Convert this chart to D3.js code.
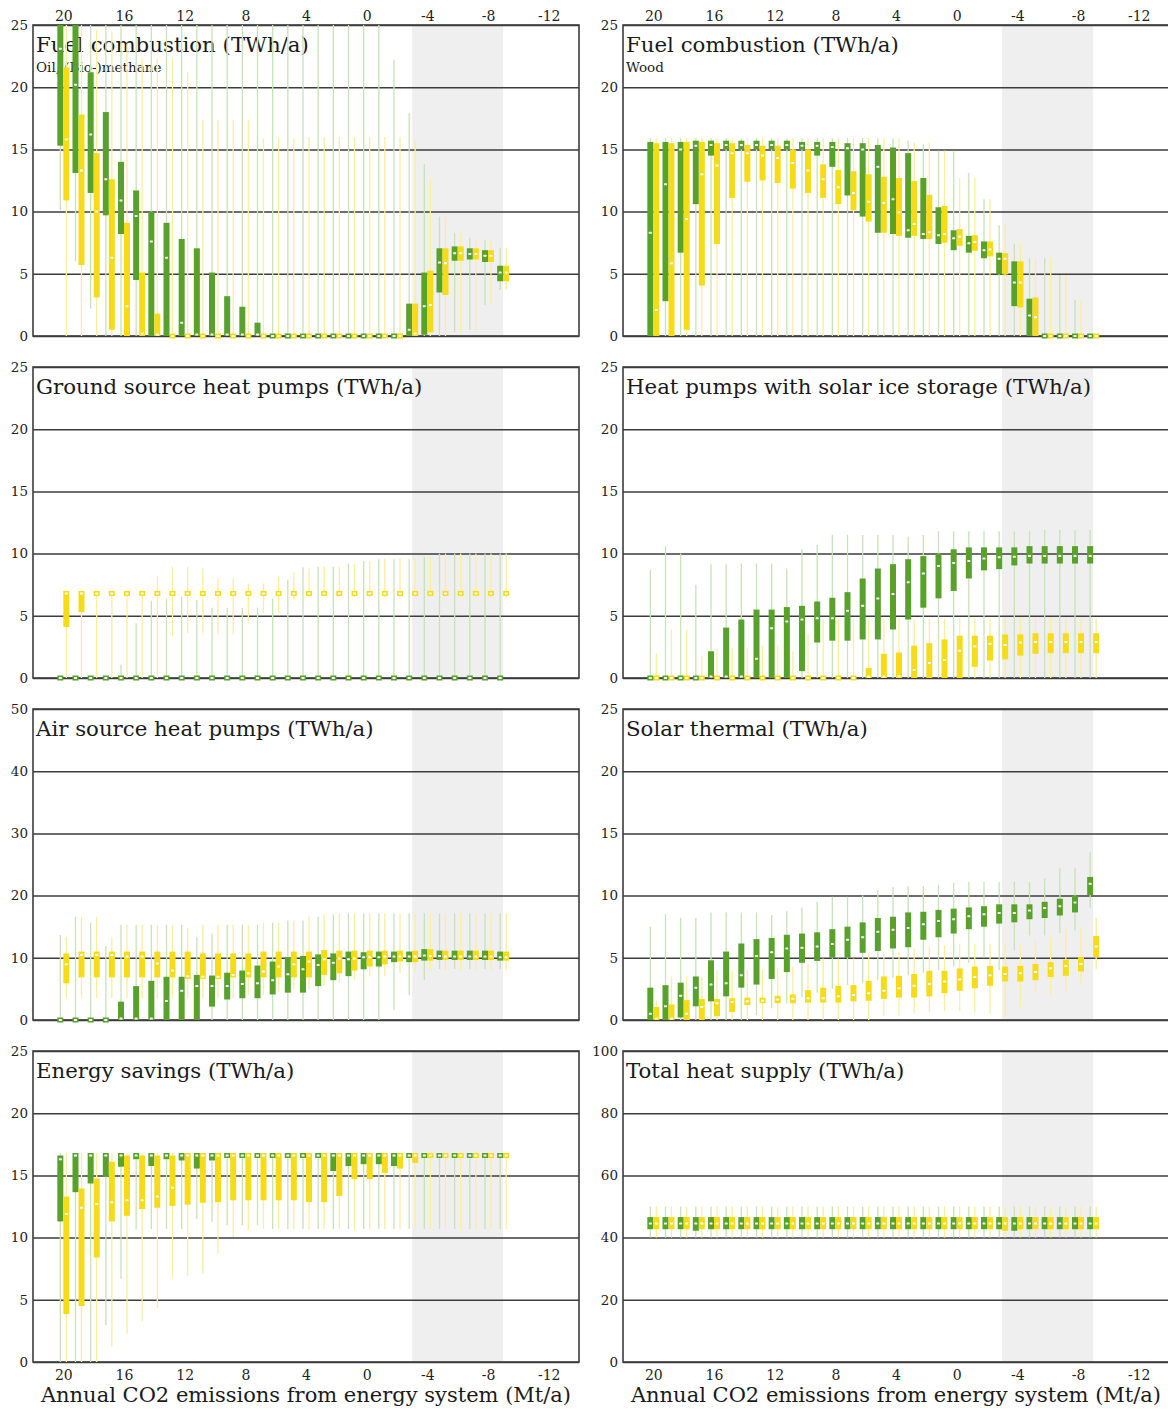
<!DOCTYPE html>
<html>
<head>
<meta charset="utf-8">
<script src="https://cdn.jsdelivr.net/npm/d3@7"></script>
<style>
  body { margin: 0; background: #fff; }
  svg { display: block; }
  text { font-family: "DejaVu Serif", serif; }
</style>
</head>
<body>
<svg id="chart" width="1168" height="1410"></svg>
<script>
// Annual CO2 emissions of the energy system (Mt/a), one box pair per level
const emissions = [20,19,18,17,16,15,14,13,12,11,10,9,8,7,6,5,4,3,2,1,0,-1,-2,-3,-4,-5,-6,-7,-8,-9];
const xTicks = [20,16,12,8,4,0,-4,-8,-12];
const ticks25 = [0,5,10,15,20,25];
const ticks50 = [0,10,20,30,40,50];
const ticks100 = [0,20,40,60,80,100];
const negativeRange = [-3, -9];

const panelTitles = [
  "Fuel combustion (TWh/a)", "Fuel combustion (TWh/a)",
  "Ground source heat pumps (TWh/a)", "Heat pumps with solar ice storage (TWh/a)",
  "Air source heat pumps (TWh/a)", "Solar thermal (TWh/a)",
  "Energy savings (TWh/a)", "Total heat supply (TWh/a)"
];
const panelSubtitles = ["Oil, (Bio-)methane", "Wood", "", "", "", "", "", ""];
const axisTitle = "Annual CO2 emissions from energy system (Mt/a)";

// Each row: [whisker low, lower quartile, median, upper quartile, whisker high]
const oilGreen = [
  [10.1,15.3,23.1,27,30],[6,13.1,20.2,27,30],[2.2,11.5,16.2,21.2,28],[0,9.7,12.6,18.0,28],
  [0,8.2,10.9,14.0,28],[0,4.5,9.65,11.7,28],[0,0,7.6,10.0,28],[0,0,6.3,9.1,28],
  [0,0,1.07,7.8,28],[0,0,0,7.05,28],[0,0,0,5.1,28],[0,0,0,3.2,28],
  [0,0,0,2.35,28],[0,0,0,1.07,28],[0,0,0,0,28],[0,0,0,0,28],
  [0,0,0,0,28],[0,0,0,0,28],[0,0,0,0,28],[0,0,0,0,28],
  [0,0,0,0,28],[0,0,0,0,28],[0,0,0,0,22.2],[0,0,0.5,2.6,17.9],
  [0,0.1,2.4,5.1,13.8],[0,3.5,5.9,7.05,9.6],[0.3,6.05,6.65,7.2,8.3],[0.5,6.15,6.6,7.05,7.9],
  [2.5,5.95,6.45,6.9,7.7],[3.7,4.4,5.1,5.65,7.1]
];
const oilYellow = [
  [0,10.9,15.8,21.6,28],[0,5.7,13.3,17.8,28],[0,3.1,10.0,14.7,24.6],[0,0.5,6.3,12.6,24.5],
  [0,0,2.4,9.1,23.5],[0,0,0.2,5.1,22.3],[0,0,0,1.8,22.3],[0,0,0,0,22.3],
  [0,0,0,0,21.2],[0,0,0,0,17.4],[0,0,0,0,17.4],[0,0,0,0,17.4],
  [0,0,0,0,17.4],[0,0,0,0,15.9],[0,0,0,0,15.9],[0,0,0,0,15.9],
  [0,0,0,0,16.0],[0,0,0,0,16.0],[0,0,0,0,16.0],[0,0,0,0,16.0],
  [0,0,0,0,16.0],[0,0,0,0,16.0],[0,0,0,0,16.0],[0,0,0.2,2.6,15.8],
  [0,0.3,2.5,5.25,12.7],[0,3.3,5.85,7.05,9.65],[0.3,6.05,6.65,7.2,8.3],[0.5,6.15,6.6,7.05,7.7],
  [2.5,5.95,6.45,6.9,7.7],[3.7,4.4,5.1,5.65,7.1]
];
const woodGreen = [
  [0,0,8.3,15.6,15.9],[0,2.8,12.2,15.6,15.9],[0,6.7,15.0,15.6,15.9],[0,10.6,15.3,15.7,15.9],
  [0,14.5,15.35,15.7,15.9],[0,15.0,15.35,15.7,15.9],[0,15.0,15.35,15.7,15.9],[0,15.0,15.35,15.7,15.9],
  [0,15.0,15.35,15.7,15.9],[0,15.0,15.35,15.7,15.9],[0,15.0,15.3,15.6,15.9],[0,14.5,15.3,15.6,15.9],
  [0,13.6,15.2,15.6,15.9],[0,11.3,15.1,15.5,15.9],[0,9.6,15.0,15.5,15.9],[0,8.3,13.6,15.35,15.9],
  [0,8.2,11.0,15.15,15.9],[0,7.9,8.5,14.7,15.7],[0,7.8,8.2,12.7,15.4],[0,7.4,8.1,10.35,14.9],
  [0,6.9,7.85,8.5,14.9],[0,6.7,7.45,8.05,13.1],[0,6.25,6.9,7.6,11.0],[0,4.95,6.2,6.7,8.9],
  [0,2.4,4.3,6.0,7.4],[0,0,1.65,3.0,6.25],[0,0,0,0,6.25],[0,0,0,0,4.9],
  [0,0,0,0,2.9],[0,0,0,0,0]
];
const woodYellow = [
  [0,0,2.1,15.5,15.9],[0,0,5.85,15.5,15.9],[0,0.5,9.4,15.6,15.9],[0,4.05,13.0,15.6,15.9],
  [0,7.4,13.7,15.5,15.9],[0,11.1,14.7,15.5,15.9],[0,12.4,14.7,15.35,15.9],[0,12.5,14.5,15.3,15.9],
  [0,12.3,14.3,15.3,15.9],[0,11.85,13.9,15.0,15.9],[0,11.5,13.3,15.0,15.9],[0,11.1,12.6,13.8,15.9],
  [0,10.6,11.95,13.35,15.9],[0,10.1,11.5,13.25,15.9],[0,9.2,10.8,13.0,15.9],[0,8.3,10.7,12.8,15.9],
  [0,8.05,9.95,12.7,15.9],[0,8.05,9.0,12.45,15.55],[0,7.8,8.35,11.35,15.55],[0,7.5,8.2,10.45,14.9],
  [0,7.25,8.0,8.6,12.7],[0,6.85,7.55,8.1,12.7],[0,6.4,6.95,7.6,11.0],[0,4.95,6.2,6.65,8.9],
  [0,2.3,4.3,6.0,7.4],[0,0,1.5,3.1,6.25],[0,0,0,0,6.25],[0,0,0,0,4.9],
  [0,0,0,0,2.9],[0,0,0,0,0]
];
const groundGreen = [
  [0,0,0,0,0],[0,0,0,0,0],[0,0,0,0,0],[0,0,0,0,0],
  [0,0,0,0,1.07],[0,0,0,0,4.4],[0,0,0,0,6.2],[0,0,0,0,6.4],
  [0,0,0,0,6.55],[0,0,0,0,6.3],[0,0,0,0,5.65],[0,0,0,0,5.65],
  [0,0,0,0,5.65],[0,0,0,0,5.65],[0,0,0,0,6.4],[0,0,0,0,7.9],
  [0,0,0,0,8.9],[0,0,0,0,8.95],[0,0,0,0,8.95],[0,0,0,0,9.2],
  [0,0,0,0,9.4],[0,0,0,0,9.55],[0,0,0,0,9.55],[0,0,0,0,9.55],
  [0,0,0,0,9.75],[0,0,0,0,10],[0,0,0,0,10],[0,0,0,0,10],
  [0,0,0,0,10],[0,0,0,0,10]
];
const groundYellow = [
  [0,4.1,6.8,7.0,7.0],[0,5.3,6.8,7.0,7.0],[0,6.8,6.8,6.8,6.8],[0,6.8,6.8,6.8,6.8],
  [0,6.8,6.8,6.8,6.8],[0,6.8,6.8,6.8,6.8],[0,6.8,6.8,6.8,8.15],[3.35,6.8,6.8,6.8,8.95],
  [3.6,6.8,6.8,6.8,8.95],[3.6,6.8,6.8,6.8,8.8],[3.5,6.8,6.8,6.8,8.0],[3.5,6.8,6.8,6.8,8.0],
  [4.6,6.8,6.8,6.8,7.6],[5.2,6.8,6.8,6.8,7.6],[5.2,6.8,6.8,6.8,8.15],[6.3,6.8,6.8,6.8,8.5],
  [6.5,6.8,6.8,6.8,8.8],[6.5,6.8,6.8,6.8,8.95],[6.5,6.8,6.8,6.8,8.95],[6.5,6.8,6.8,6.8,9.15],
  [6.5,6.8,6.8,6.8,9.4],[6.5,6.8,6.8,6.8,9.6],[6.5,6.8,6.8,6.8,9.6],[6.5,6.8,6.8,6.8,9.6],
  [6.5,6.8,6.8,6.8,9.75],[6.5,6.8,6.8,6.8,10],[6.5,6.8,6.8,6.8,10],[6.5,6.8,6.8,6.8,10],
  [6.5,6.8,6.8,6.8,10],[6.5,6.8,6.8,6.8,10]
];
const iceGreen = [
  [0,0,0,0,8.7],[0,0,0,0,10.6],[0,0,0,0,10.0],[0,0,0,0,7.5],
  [0,0,0,2.15,9.15],[0,0,0,4.05,9.15],[0,0,0,4.7,9.2],[0,0,1.55,5.5,9.2],
  [0,0,4.0,5.5,9.2],[0,0,4.55,5.7,8.8],[0,0.55,4.7,5.8,10.35],[0,2.85,4.8,6.15,10.7],
  [0,3.0,4.8,6.45,11.5],[0,3.0,5.4,6.9,11.5],[0,3.1,5.8,8.0,11.5],[0,3.1,6.4,8.8,11.5],
  [0,3.9,6.75,9.15,11.5],[0,4.7,7.7,9.55,11.35],[0,5.65,8.4,9.8,11.5],[0,6.4,9.0,10.0,11.8],
  [0,7.0,9.25,10.35,11.8],[0,8.0,9.4,10.5,11.8],[0,8.65,9.6,10.5,11.8],[0,8.75,9.7,10.5,11.8],
  [0,9.05,9.75,10.5,11.8],[0,9.2,9.8,10.6,11.8],[0,9.2,9.8,10.6,11.9],[0,9.2,9.8,10.6,11.9],
  [0,9.2,9.8,10.6,11.9],[0,9.2,9.8,10.6,11.9]
];
const iceYellow = [
  [0,0,0,0,1.95],[0,0,0,0,3.9],[0,0,0,0,3.9],[0,0,0,0,1.75],
  [0,0,0,0,2.4],[0,0,0,0,2.4],[0,0,0,0,2.4],[0,0,0,0,2.6],
  [0,0,0,0,2.6],[0,0,0,0,2.15],[0,0,0,0,3.6],[0,0,0,0,4.75],
  [0,0,0,0,4.75],[0,0,0,0,4.75],[0,0,0,0.8,4.75],[0,0,0,1.95,4.75],
  [0,0,0.15,2.05,4.75],[0,0,0.65,2.6,4.75],[0,0,1.2,2.8,4.75],[0,0,1.45,3.1,4.75],
  [0,0,2.2,3.4,4.8],[0,0.9,2.55,3.4,4.8],[0,1.4,2.75,3.4,4.8],[0,1.5,2.65,3.5,4.8],
  [0,1.8,2.85,3.5,4.8],[0,1.95,2.9,3.6,4.8],[0,2.0,2.9,3.6,4.8],[0,2.0,2.9,3.6,4.8],
  [0,2.0,2.9,3.6,4.8],[0,2.0,2.9,3.6,4.8]
];
const airGreen = [
  [0,0,0,0,13.65],[0,0,0,0,16.6],[0,0,0,0,15.65],[0,0,0,0,11.9],
  [0,0,0,2.95,15.3],[0,0,0,5.45,15.3],[0,0,0.1,6.3,15.3],[0,0,3.05,6.95,15.3],
  [0,0,4.7,6.95,15.3],[0,0,5.45,7.25,13.4],[0,2.15,5.45,7.15,13.9],[0,3.3,5.45,7.6,15.3],
  [0,3.5,5.8,7.95,15.3],[0,3.5,5.9,8.75,15.3],[0,4.1,6.4,9.4,15.65],[0,4.4,7.35,10.1,16.0],
  [0,4.4,8.15,10.3,16.0],[0,5.45,8.85,10.55,16.6],[0,6.4,9.2,10.7,17.0],[0,7.05,9.75,11.0,17.15],
  [0,8.15,10.1,10.9,17.15],[0,8.6,10.1,11.0,17.15],[1.6,9.3,10.2,11.0,17.15],[4.0,9.3,10.2,11.0,17.15],
  [6.4,9.55,10.35,11.4,17.15],[8.2,9.65,10.3,11.15,17.15],[8.2,9.65,10.2,11.15,17.15],[8.2,9.65,10.2,11.15,17.15],
  [8.2,9.65,10.2,11.15,17.15],[8.2,9.55,10.1,11.0,17.15]
];
const airYellow = [
  [3.5,5.9,8.95,10.7,13.4],[3.5,6.85,10.45,11.0,16.6],[3.5,6.85,10.45,11.0,16.6],[3.5,6.85,10.45,11.0,13.3],
  [3.5,6.85,10.2,11.0,15.3],[3.5,6.85,10.2,11.0,15.3],[3.5,6.85,9.1,11.0,15.3],[3.5,6.85,7.95,11.0,15.3],
  [3.5,6.6,7.05,11.0,14.8],[3.5,6.6,6.95,10.7,15.3],[3.5,6.6,6.95,10.7,15.3],[3.5,6.85,7.25,10.7,15.3],
  [4.0,6.85,7.5,10.7,15.3],[4.0,6.85,7.8,11.0,15.65],[4.5,6.85,8.6,11.0,15.65],[5.0,6.85,8.95,11.0,16.0],
  [5.0,6.85,9.4,11.0,16.6],[5.5,7.25,9.75,11.25,17.0],[6.0,7.5,9.9,11.15,17.15],[6.5,7.95,9.9,11.15,17.15],
  [7.0,8.6,10.1,11.15,17.15],[7.0,8.95,10.2,11.15,17.15],[7.5,9.4,10.2,11.15,17.15],[7.5,9.3,10.2,11.15,17.15],
  [8.0,9.55,10.3,11.4,17.15],[8.0,9.65,10.2,11.15,17.15],[8.0,9.65,10.2,11.15,17.15],[8.0,9.65,10.2,11.15,17.15],
  [8.0,9.65,10.2,11.15,17.15],[8.0,9.55,10.1,11.0,17.15]
];
const solarGreen = [
  [0,0,0.5,2.6,7.5],[0,0,1.1,2.8,8.5],[0,0.2,1.95,3.0,8.2],[0,1.1,2.6,3.5,8.2],
  [0,1.5,2.85,4.8,8.65],[0,1.9,2.95,5.5,8.65],[0,2.6,3.6,6.15,8.65],[0.4,2.85,5.15,6.5,8.65],
  [0.95,3.3,5.45,6.6,8.45],[1.35,3.85,5.75,6.85,8.75],[1.8,4.6,5.8,6.95,9.05],[2.2,4.75,5.9,7.05,9.5],
  [2.5,5.0,6.1,7.3,9.9],[2.8,5.0,6.45,7.5,9.9],[3.0,5.4,6.65,7.85,10.0],[3.2,5.55,7.1,8.2,10.4],
  [3.4,5.75,7.25,8.3,10.7],[3.6,5.85,7.4,8.65,10.75],[3.8,6.45,7.7,8.7,10.75],[4.0,6.65,7.95,8.85,10.85],
  [4.3,6.95,8.1,8.95,11.05],[4.6,7.3,8.35,9.05,11.1],[5.0,7.5,8.5,9.15,11.1],[4.0,7.75,8.6,9.3,11.1],
  [5.6,7.85,8.6,9.3,11.1],[6.8,8.1,8.8,9.3,11.1],[6.8,8.2,9.0,9.5,11.4],[7.0,8.4,9.15,9.75,12.2],
  [7.2,8.65,9.45,10.0,12.2],[9.0,10.05,10.95,11.5,13.5]
];
const solarYellow = [
  [0,0,0.05,1.05,1.5],[0,0,0.05,1.25,3.5],[0,0,0.5,1.6,3.5],[0,0,1.05,1.7,3.5],
  [0,0.3,1.35,1.7,4.0],[0,0.65,1.45,1.75,4.0],[0,1.2,1.5,1.8,4.0],[0,1.35,1.55,1.8,4.05],
  [0,1.35,1.65,1.95,4.15],[0,1.35,1.7,2.05,4.3],[0,1.4,1.75,2.4,4.5],[0,1.4,1.75,2.6,4.95],
  [0,1.4,1.9,2.75,4.95],[0,1.5,2.0,2.8,4.95],[0,1.55,2.15,3.15,5.35],[0.3,1.7,2.35,3.5,5.5],
  [0.3,1.8,2.55,3.55,5.5],[0.5,1.8,2.75,3.7,5.75],[0.6,1.9,2.9,3.95,5.9],[0.7,2.15,3.1,3.95,6.0],
  [0.7,2.35,3.25,4.15,6.1],[0.6,2.55,3.45,4.3,6.1],[0.5,2.75,3.6,4.35,6.15],[0.25,3.1,3.7,4.3,6.15],
  [1.05,3.1,3.75,4.35,6.0],[2.25,3.2,3.85,4.5,6.45],[2.0,3.45,4.15,4.65,6.65],[2.35,3.55,4.35,4.85,7.35],
  [2.95,3.9,4.5,5.05,7.35],[4.05,5.05,5.9,6.75,8.2]
];
const savingsGreen = [
  [0,11.3,16.3,16.6,16.8],[0,13.65,16.6,16.8,16.8],[0,14.35,16.6,16.8,16.8],[2.95,14.9,16.6,16.8,16.8],
  [6.7,15.7,16.6,16.8,16.8],[10.65,16.3,16.6,16.8,16.8],[10.7,15.75,16.6,16.8,16.8],[10.7,16.3,16.6,16.8,16.8],
  [10.7,16.2,16.6,16.8,16.8],[11.5,15.55,16.6,16.8,16.8],[11.25,16.2,16.6,16.8,16.8],[11.0,16.4,16.6,16.8,16.8],
  [11.0,16.4,16.6,16.8,16.8],[11.0,16.4,16.6,16.8,16.8],[10.7,16.4,16.6,16.8,16.8],[10.7,16.4,16.6,16.8,16.8],
  [10.7,16.4,16.6,16.8,16.8],[10.7,16.4,16.6,16.8,16.8],[10.7,15.35,16.6,16.8,16.8],[10.7,15.75,16.6,16.8,16.8],
  [10.7,15.9,16.6,16.8,16.8],[10.7,15.9,16.6,16.8,16.8],[10.7,15.75,16.6,16.8,16.8],[10.7,16.4,16.6,16.8,16.8],
  [10.7,16.4,16.6,16.8,16.8],[10.7,16.4,16.6,16.8,16.8],[10.7,16.4,16.6,16.8,16.8],[10.7,16.4,16.6,16.8,16.8],
  [10.7,16.4,16.6,16.8,16.8],[10.7,16.4,16.6,16.8,16.8]
];
const savingsYellow = [
  [0,3.85,11.9,13.3,16.8],[0,4.5,12.4,13.95,16.8],[0,8.4,12.7,14.75,16.8],[1.25,11.3,12.85,16.1,16.8],
  [2.3,11.75,13.0,16.6,16.8],[3.3,12.3,13.0,16.6,16.8],[4.35,12.4,13.3,16.6,16.8],[6.8,12.55,14.0,16.6,16.8],
  [6.9,12.65,16.6,16.8,16.8],[7.1,12.8,16.6,16.8,16.8],[8.7,12.85,16.6,16.8,16.8],[10.05,13.0,16.6,16.8,16.8],
  [10.6,13.0,16.6,16.8,16.8],[10.7,13.0,16.6,16.8,16.8],[10.7,13.0,16.6,16.8,16.8],[10.7,13.0,16.6,16.8,16.8],
  [10.7,12.85,16.6,16.8,16.8],[10.7,12.85,16.6,16.8,16.8],[10.7,13.35,16.6,16.8,16.8],[10.7,14.7,16.6,16.8,16.8],
  [10.7,14.7,16.6,16.8,16.8],[10.7,15.2,16.6,16.8,16.8],[10.7,15.55,16.6,16.8,16.8],[10.7,16.0,16.6,16.8,16.8],
  [10.7,16.4,16.6,16.8,16.8],[10.7,16.4,16.6,16.8,16.8],[10.7,16.4,16.6,16.8,16.8],[10.7,16.4,16.6,16.8,16.8],
  [10.7,16.4,16.6,16.8,16.8],[10.7,16.4,16.6,16.8,16.8]
];
const totalGreen = [
  [40,42.7,44.5,46.6,50],[40,42.7,44.5,46.6,50],[40,42.7,44.5,46.6,50],[40,42.2,44.5,46.6,50],
  [40,42.7,44.5,46.6,50],[40,42.7,44.5,46.6,50],[40,42.7,44.5,46.6,50],[40,42.7,44.5,46.6,50],
  [40,42.7,44.5,46.6,50],[40,42.7,44.5,46.6,50],[40,42.7,44.5,46.6,50],[40,42.7,44.5,46.6,50],
  [40,42.7,44.5,46.6,50],[40,42.7,44.5,46.6,50],[40,42.7,44.5,46.6,50],[40,42.7,44.5,46.6,50],
  [40,42.7,44.5,46.6,50],[40,42.7,44.5,46.6,50],[40,42.7,44.5,46.6,50],[40,42.7,44.5,46.6,50],
  [40,42.7,44.5,46.6,50],[40,42.7,44.5,46.6,50],[40,42.7,44.5,46.6,50],[40,42.7,44.5,46.6,50],
  [40,42.2,44.5,46.6,50],[40,42.7,44.5,46.6,50],[40,42.7,44.5,46.6,50],[40,42.7,44.5,46.6,50],
  [40,42.7,44.5,46.6,50],[40,42.7,44.5,46.6,50]
];
const totalYellow = [
  [40,42.7,44.5,46.6,50],[40,42.7,44.5,46.6,50],[40,42.7,44.5,46.6,50],[40,42.7,44.5,46.6,50],
  [40,42.7,44.5,46.6,50],[40,42.7,44.5,46.6,50],[40,42.7,44.5,46.6,50],[40,42.7,44.5,46.6,50],
  [40,42.7,44.5,46.6,50],[40,42.7,44.5,46.6,50],[40,42.7,44.5,46.6,50],[40,42.7,44.5,46.6,50],
  [40,42.7,44.5,46.6,50],[40,42.7,44.5,46.6,50],[40,42.7,44.5,46.6,50],[40,42.7,44.5,46.6,50],
  [40,42.7,44.5,46.6,50],[40,42.7,44.5,46.6,50],[40,42.7,44.5,46.6,50],[40,42.7,44.5,46.6,50],
  [40,42.7,44.5,46.6,50],[40,42.7,44.5,46.6,50],[40,42.7,44.5,46.6,50],[40,42.2,44.5,46.6,50],
  [40,42.7,44.5,46.6,50],[40,42.7,44.5,46.6,50],[40,42.7,44.5,46.6,50],[40,42.7,44.5,46.6,50],
  [40,42.7,44.5,46.6,50],[40,42.7,44.5,46.6,50]
];

// Panel table (2 columns x 4 rows, read left to right)
const panels = [
  { yMax: 25,  ticks: ticks25,  green: oilGreen,     yellow: oilYellow },
  { yMax: 25,  ticks: ticks25,  green: woodGreen,    yellow: woodYellow },
  { yMax: 25,  ticks: ticks25,  green: groundGreen,  yellow: groundYellow },
  { yMax: 25,  ticks: ticks25,  green: iceGreen,     yellow: iceYellow },
  { yMax: 50,  ticks: ticks50,  green: airGreen,     yellow: airYellow },
  { yMax: 25,  ticks: ticks25,  green: solarGreen,   yellow: solarYellow },
  { yMax: 25,  ticks: ticks25,  green: savingsGreen, yellow: savingsYellow },
  { yMax: 100, ticks: ticks100, green: totalGreen,   yellow: totalYellow }
].map((p, i) => ({ ...p, title: panelTitles[i], sub: panelSubtitles[i] }));

// Layout
const W = 546, H = 311;
const colX = [33, 623];
const rowY = [25, 367, 709, 1051];
const boxW = 6, minBoxH = 5;
const colors = {
  green: "#58a12b", yellow: "#f6dc18",
  greenWhisker: "#c8e2b9", yellowWhisker: "#faee9e",
  shade: "#efefef", grid: "#3d3d3d", text: "#1a1a1a", tick: "#222"
};

const svg = d3.select("#chart");
const defs = svg.append("defs");

panels.forEach((p, i) => {
  const col = i % 2, row = Math.floor(i / 2);
  const x0 = colX[col], y0 = rowY[row];
  const x = d3.scaleLinear().domain([22, -14]).range([x0, x0 + W]);
  const y = d3.scaleLinear().domain([0, p.yMax]).range([y0 + H, y0]);
  const g = svg.append("g");

  // shaded band of net-negative emissions
  g.append("rect")
    .attr("x", x(negativeRange[0])).attr("width", x(negativeRange[1]) - x(negativeRange[0]))
    .attr("y", y0).attr("height", H).attr("fill", colors.shade);

  // horizontal grid lines
  g.append("g")
    .attr("transform", `translate(${x0},0)`)
    .call(d3.axisLeft(y).tickValues(p.ticks).tickSize(-W).tickFormat(""))
    .call(a => a.select(".domain").remove())
    .call(a => a.selectAll("line").attr("stroke", colors.grid).attr("stroke-width", 1.5));

  // y tick labels
  g.append("g")
    .attr("transform", `translate(${x0},0)`)
    .call(d3.axisLeft(y).tickValues(p.ticks).tickSize(0).tickPadding(5).tickFormat(d => String(d)))
    .call(a => a.select(".domain").remove())
    .call(a => a.selectAll("text").attr("font-family", "DejaVu Serif").attr("font-size", 13.5).attr("fill", colors.tick));

  // frame
  g.append("rect")
    .attr("x", x0).attr("y", y0).attr("width", W).attr("height", H)
    .attr("fill", "none").attr("stroke", colors.grid).attr("stroke-width", 1.6);

  // x tick labels on the outer rows
  if (row === 0) {
    g.append("g").attr("transform", `translate(0,${y0})`)
      .call(d3.axisTop(x).tickValues(xTicks).tickSize(0).tickPadding(4).tickFormat(d => String(d)))
      .call(a => a.select(".domain").remove())
      .call(a => a.selectAll("text").attr("font-family", "DejaVu Serif").attr("font-size", 14).attr("fill", colors.tick));
  }
  if (row === 3) {
    g.append("g").attr("transform", `translate(0,${y0 + H})`)
      .call(d3.axisBottom(x).tickValues(xTicks).tickSize(0).tickPadding(8).tickFormat(d => String(d)))
      .call(a => a.select(".domain").remove())
      .call(a => a.selectAll("text").attr("font-family", "DejaVu Serif").attr("font-size", 14).attr("fill", colors.tick));
    g.append("text")
      .attr("x", x0 + W / 2).attr("y", y0 + H + 40)
      .attr("text-anchor", "middle").attr("font-size", 21).attr("fill", colors.text)
      .text(axisTitle);
  }

  // panel title and subtitle
  g.append("text").attr("x", x0 + 3).attr("y", y0 + 27)
    .attr("font-size", 21.3).attr("fill", colors.text).text(p.title);
  if (p.sub) {
    g.append("text").attr("x", x0 + 3).attr("y", y0 + 47)
      .attr("font-size", 13.5).attr("fill", colors.text).text(p.sub);
  }

  // box plots
  const clipId = "clip" + i;
  defs.append("clipPath").attr("id", clipId).append("rect")
    .attr("x", x0).attr("y", y0).attr("width", W + 20).attr("height", H + 6);
  const marks = g.append("g").attr("clip-path", `url(#${clipId})`);

  const series = [
    { rows: p.green,  offset: -boxW, fill: colors.green,  whisker: colors.greenWhisker },
    { rows: p.yellow, offset: 0,     fill: colors.yellow, whisker: colors.yellowWhisker }
  ];
  const stats = series.map(s => emissions.map((e, k) => {
    const [lo, q1, med, q3, hi] = s.rows[k];
    const left = x(e) + s.offset;
    let top = y(q3), bottom = y(q1);
    if (bottom - top < minBoxH) {
      const mid = (top + bottom) / 2;
      top = mid - minBoxH / 2; bottom = mid + minBoxH / 2;
    }
    return { left, cx: left + boxW / 2, lo, hi, med, top, bottom, s };
  }));

  stats.forEach(list => {
    marks.append("g").selectAll("line").data(list).join("line")
      .attr("x1", d => d.cx).attr("x2", d => d.cx)
      .attr("y1", d => y(d.lo)).attr("y2", d => y(d.hi))
      .attr("stroke", d => d.s.whisker).attr("stroke-width", 1.3);
  });
  stats.forEach(list => {
    marks.append("g").selectAll("rect").data(list).join("rect")
      .attr("x", d => d.left).attr("width", boxW)
      .attr("y", d => d.top).attr("height", d => d.bottom - d.top)
      .attr("fill", d => d.s.fill);
  });
  stats.forEach(list => {
    marks.append("g").selectAll("rect").data(list).join("rect")
      .attr("x", d => d.cx - 1.5).attr("width", 3)
      .attr("y", d => Math.min(Math.max(y(d.med), d.top + 1.5), d.bottom - 1.5) - 1).attr("height", 2)
      .attr("rx", 0.6).attr("fill", "#fff");
  });
});
</script>
</body>
</html>
